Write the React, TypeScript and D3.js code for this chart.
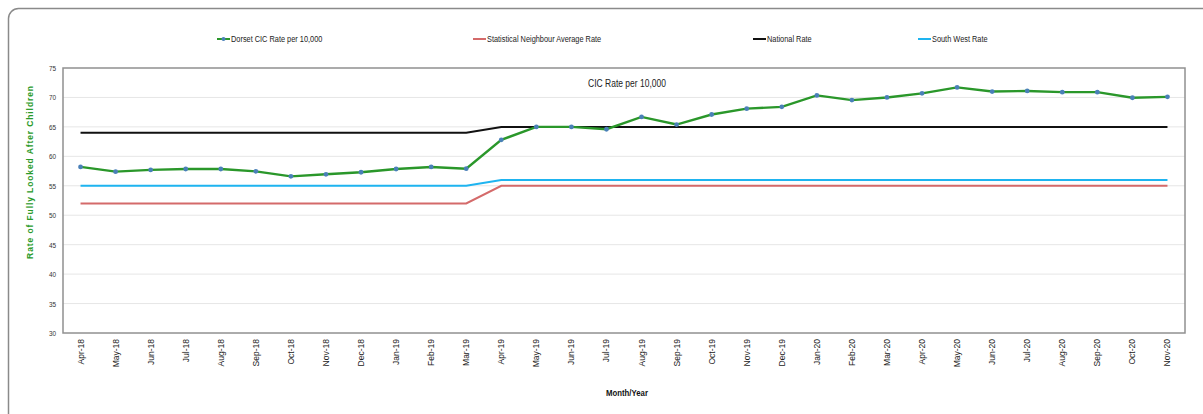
import React from "react";
import * as d3 from "d3";

const months = ["Apr-18","May-18","Jun-18","Jul-18","Aug-18","Sep-18","Oct-18","Nov-18","Dec-18","Jan-19","Feb-19","Mar-19","Apr-19","May-19","Jun-19","Jul-19","Aug-19","Sep-19","Oct-19","Nov-19","Dec-19","Jan-20","Feb-20","Mar-20","Apr-20","May-20","Jun-20","Jul-20","Aug-20","Sep-20","Oct-20","Nov-20"];
const dorset = [58.2,57.4,57.7,57.85,57.85,57.45,56.6,56.95,57.3,57.85,58.2,57.9,62.8,65.0,65.0,64.6,66.7,65.4,67.1,68.1,68.4,70.35,69.55,70.0,70.7,71.7,71.0,71.1,70.9,70.9,69.95,70.1];
const statNeighbour = [52,52,52,52,52,52,52,52,52,52,52,52,55,55,55,55,55,55,55,55,55,55,55,55,55,55,55,55,55,55,55,55];
const national = [64,64,64,64,64,64,64,64,64,64,64,64,65,65,65,65,65,65,65,65,65,65,65,65,65,65,65,65,65,65,65,65];
const southWest = [55,55,55,55,55,55,55,55,55,55,55,55,56,56,56,56,56,56,56,56,56,56,56,56,56,56,56,56,56,56,56,56];
const yTicks = [30,35,40,45,50,55,60,65,70,75];

const W = 1203, H = 414;
const left = 63, right = 1185, top = 68, bottom = 333;
const sans = "'Liberation Sans', Arial, sans-serif";

function Narrow({ x, y, size, anchor = "start", k = 0.82, weight = "normal", fill = "#222", children }: any) {
  return (
    <text transform={`translate(${x},${y}) scale(${k},1)`} fontSize={size} fontFamily={sans}
      textAnchor={anchor} fontWeight={weight} fill={fill}>{children}</text>
  );
}

export default function App() {
  const x = d3.scalePoint<string>().domain(months).range([left, right]).padding(0.5);
  const y = d3.scaleLinear().domain([30, 75]).range([bottom, top]);
  const line = (vals: number[]) =>
    d3.line<number>().x((_, i) => x(months[i])!).y((v) => y(v))(vals) || "";

  const legend = [
    { label: "Dorset CIC Rate per 10,000", color: "#2a972a", x: 217, marker: true },
    { label: "Statistical Neighbour Average Rate", color: "#d46a6a", x: 473, marker: false },
    { label: "National Rate", color: "#111111", x: 753, marker: false },
    { label: "South West Rate", color: "#1eb4f0", x: 918, marker: false },
  ];

  return (
    <svg width={W} height={H} style={{ position: "absolute", left: 0, top: 0 }}>
      <rect x={0} y={0} width={W} height={H} fill="#ffffff" />
      <rect x={8.5} y={8.5} width={1230} height={440} rx={10} fill="#fff" stroke="#8a8a8a" strokeWidth={1.5} />
      {legend.map((l) => (
        <g key={l.label}>
          <line x1={l.x} x2={l.x + 13} y1={39} y2={39} stroke={l.color} strokeWidth={2} />
          {l.marker && <circle cx={l.x + 6.5} cy={39} r={2} fill="#4a80b8" />}
          <Narrow x={l.x + 14} y={42} size={9}>{l.label}</Narrow>
        </g>
      ))}
      {yTicks.map((t) => (
        <g key={t}>
          {t !== 75 && t !== 30 && (
            <line x1={left} x2={right} y1={y(t)} y2={y(t)} stroke="#e6e6e6" strokeWidth={1} />
          )}
          <Narrow x={56} y={y(t) + 3} size={8} anchor="end" k={0.8} fill="#333">{t}</Narrow>
        </g>
      ))}
      <rect x={left} y={top} width={right - left} height={bottom - top} fill="none" stroke="#909090" strokeWidth={1.5} />
      <Narrow x={627} y={87} size={10} anchor="middle" k={0.85}>CIC Rate per 10,000</Narrow>
      <path d={line(statNeighbour)} fill="none" stroke="#d46a6a" strokeWidth={2} />
      <path d={line(southWest)} fill="none" stroke="#1eb4f0" strokeWidth={2} />
      <path d={line(national)} fill="none" stroke="#111111" strokeWidth={2} />
      <path d={line(dorset)} fill="none" stroke="#2a972a" strokeWidth={2.4} />
      {dorset.map((v, i) => (
        <circle key={i} cx={x(months[i])} cy={y(v)} r={2.4} fill="#4a80b8" />
      ))}
      {months.map((m) => (
        <text key={m} transform={`translate(${x(m)! + 3},${339}) rotate(-90)`} fontSize={8.5}
          fontFamily={sans} textAnchor="end" fill="#222">{m}</text>
      ))}
      <Narrow x={627} y={396} size={9.5} anchor="middle" k={0.82} weight="bold" fill="#111">Month/Year</Narrow>
      <text transform={`translate(33,172) rotate(-90)`} fontSize={8.5} fontWeight="bold" letterSpacing={0.9}
        fontFamily={sans} textAnchor="middle" fill="#2a9a2a">Rate of Fully Looked After Children</text>
    </svg>
  );
}
